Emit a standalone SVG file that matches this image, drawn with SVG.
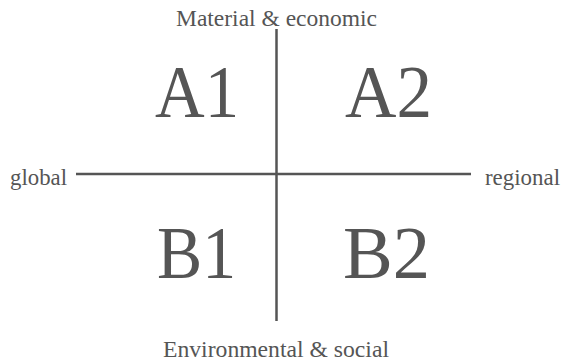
<svg xmlns="http://www.w3.org/2000/svg" width="563" height="363" viewBox="0 0 563 363">
<style>
.big{font-family:"Liberation Serif",serif;font-size:74px;fill:#555;}
.lbl{font-family:"Liberation Serif",serif;font-size:23.5px;fill:#555;}
.ax{stroke:#555;stroke-width:2.5;fill:none;}
</style>
<rect width="563" height="363" fill="#fff"/>
<g id="connectors">
<line class="ax" x1="276.5" y1="29" x2="276.5" y2="321"/>
<line class="ax" x1="76" y1="174" x2="471" y2="174"/>
</g>
<g id="A1"><text class="big" x="155" y="117" textLength="84" lengthAdjust="spacingAndGlyphs">A1</text></g>
<g id="A2"><text class="big" x="345" y="117" textLength="87" lengthAdjust="spacingAndGlyphs">A2</text></g>
<g id="B1"><text class="big" x="157" y="278" textLength="79" lengthAdjust="spacingAndGlyphs">B1</text></g>
<g id="B2"><text class="big" x="343" y="278" textLength="87" lengthAdjust="spacingAndGlyphs">B2</text></g>
<g id="top"><text class="lbl" x="176" y="26" textLength="201" lengthAdjust="spacingAndGlyphs">Material &amp; economic</text></g>
<g id="bottom"><text class="lbl" x="163" y="357" textLength="226" lengthAdjust="spacingAndGlyphs">Environmental &amp; social</text></g>
<g id="left"><text class="lbl" x="10" y="185" textLength="57" lengthAdjust="spacingAndGlyphs">global</text></g>
<g id="right"><text class="lbl" x="485" y="185" textLength="75" lengthAdjust="spacingAndGlyphs">regional</text></g>
</svg>
